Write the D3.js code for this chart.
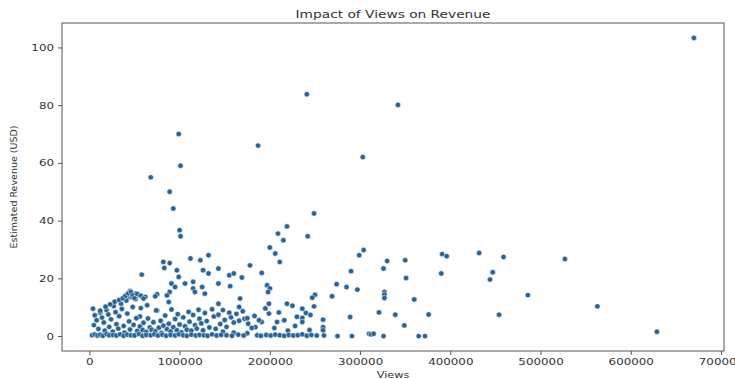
<!DOCTYPE html>
<html>
<head>
<meta charset="utf-8">
<script src="https://cdn.jsdelivr.net/npm/d3@7"></script>
<style>
    body { margin: 0; background: #fff; }
    svg { display: block; }
    text { font-family: "DejaVu Sans", sans-serif; fill: #333; }
</style>
</head>
<body>
<svg id="chart" width="735" height="379"></svg>
<script>
// views (thousands) and estimated revenue (USD)
var views = [
    670, 241, 342, 99, 187, 303, 101, 68, 89, 93, 100, 101, 249, 219, 209, 215, 242, 200, 206, 211,
    304, 299, 290, 297, 274, 285, 269, 289, 259, 259, 259, 260, 275, 291, 310,
    330, 326, 350, 351, 391, 396, 390, 432, 459, 447, 444, 486, 527, 563, 629, 454,
    327, 327, 327, 360, 321, 339, 376, 349, 312, 315, 326, 365, 372,
    250, 247, 219, 249, 236, 240, 236, 236, 216,
    112, 123, 132, 178, 126, 132, 143, 155, 160, 169, 191, 156, 143, 167, 128, 106, 115, 115, 117, 125,
    197, 200, 198, 143, 166, 199, 184, 199, 208, 191,
    82, 89, 83, 58, 97, 99, 91, 95, 89, 75, 45, 51, 44, 88, 86, 64, 56, 75, 73,
    4, 6, 8, 5, 10, 12, 14, 16, 17, 19, 21, 22, 24, 26, 27, 29, 30, 32, 33, 35,
    36, 38, 39, 41, 42, 44, 45, 47, 48, 49, 51, 52, 53, 55, 56, 57, 59, 60, 62, 63,
    65, 67, 69, 71, 73, 74, 77, 79, 80, 82, 84, 86, 88, 90, 91, 93, 95, 97, 98, 100,
    102, 104, 106, 108, 110, 111, 113, 115, 117, 119, 121, 122, 124, 126, 128, 130, 133, 136, 138, 140,
    143, 145, 148, 150, 152, 155, 157, 160, 163, 166, 170, 172, 176, 180, 148, 160, 175,
    12, 18, 23, 28, 33, 37, 40, 43, 46, 48, 50, 53, 57, 60,
    195, 210, 225, 230, 245, 205, 220, 228, 244, 183, 188, 175,
    3, 6, 9, 12, 15, 19, 22, 26, 30, 34, 38, 42, 46, 50, 55, 59, 63, 68, 72, 76,
    81, 85, 90, 95, 99, 104, 108, 113, 118, 122, 127, 131, 136, 141, 146, 152, 158, 165, 171,
    186, 190, 196, 201, 206, 211, 216, 221, 226, 231, 236, 241, 246, 252
];
var revenue = [
    103.3, 83.8, 80.1, 70, 66, 62, 59, 55, 50, 44.2, 36.7, 34.6, 42.5, 38, 35.5, 33.2, 34.6, 30.7, 28.6, 25.7,
    29.8, 28, 22.5, 16.1, 18, 17, 13.8, 6.6, 5.7, 3.1, 2, 0.2, 0, 0, 0.8,
    26, 23.4, 26.3, 20.1, 28.4, 27.7, 21.7, 28.8, 27.4, 22.1, 19.6, 14.2, 26.7, 10.3, 1.5, 7.4,
    15.3, 14.4, 13.2, 12.7, 8.2, 7.4, 7.5, 3.7, 0.6, 0.8, 0, 0, 0,
    14.3, 13.3, 11.2, 10.3, 9.5, 8, 6.3, 4.9, 5.5,
    26.9, 26.3, 28, 24.5, 22.8, 21.7, 23.4, 21.1, 21.7, 20.3, 21.9, 17.3, 18.2, 13, 14.7, 18.2, 18.8, 16.5, 15.3, 17,
    17.6, 16.5, 15.3, 11.2, 10.1, 11.2, 3.1, 7.8, 4.9, 4.9,
    25.7, 25.3, 23.6, 21.3, 22.8, 20.5, 18.2, 17, 15.3, 14.5, 15.6, 14.7, 13.5, 11.8, 14.1, 10.7, 6.8, 8.9, 13.8,
    9.5, 7.2, 5.5, 3.8, 2.5, 8.1, 6.4, 4.7, 1.9, 9.0, 7.5, 3.2, 5.8, 1.5, 10.4, 8.3, 4.1, 2.6, 6.9, 11.2,
    9.4, 3.5, 1.2, 12.3, 7.8, 5.1, 2.3, 13.5, 10.1, 3.9, 12.8, 6.2, 1.8, 14.2, 3.3, 9.7, 2.1, 4.6, 13.6, 1.4,
    6.1, 3.0, 2.2, 4.8, 1.7, 8.9, 2.9, 5.3, 1.1, 3.6, 7.1, 2.4, 4.3, 1.6, 9.2, 3.1, 5.9, 2.0, 7.6, 4.0,
    1.3, 6.5, 3.4, 2.2, 8.4, 5.0, 1.9, 7.3, 3.8, 2.6, 9.1, 6.0, 4.4, 2.0, 8.0, 5.2, 3.0, 9.3, 6.8, 2.5,
    7.4, 4.2, 9.0, 5.6, 3.2, 8.1, 6.5, 4.7, 7.7, 5.3, 8.6, 6.0, 4.3, 2.8, 1.5, 1.2, 1.0,
    8.8, 10.2, 11.0, 11.9, 12.5, 13.1, 14.0, 14.8, 15.3, 14.1, 13.2, 14.6, 14.0, 13.0,
    9.6, 8.2, 10.5, 6.7, 7.3, 2.8, 1.9, 3.5, 2.1, 7.0, 5.5, 6.2,
    0.3, 0.6, 0.2, 0.5, 0.1, 0.7, 0.3, 0.4, 0.2, 0.6, 0.1, 0.5, 0.3, 0.2, 0.7, 0.1, 0.4, 0.3, 0.6, 0.2,
    0.5, 0.1, 0.4, 0.2, 0.6, 0.3, 0.1, 0.5, 0.2, 0.4, 0.3, 0.1, 0.6, 0.2, 0.4, 0.3, 0.1, 0.5, 0.2,
    0.3, 0.1, 0.4, 0.2, 0.5, 0.3, 0.1, 0.4, 0.2, 0.3, 0.6, 0.1, 0.4, 0.2
];
var xTicks = [0, 100000, 200000, 300000, 400000, 500000, 600000, 700000];
var yTicks = [0, 20, 40, 60, 80, 100];

var width = 735, height = 379;
var plotLeft = 62, plotRight = 724, plotTop = 23, plotBottom = 351;
var stretch = 1.25;   // the picture is squeezed wider than it is tall

var points = views.map(function (v, i) { return { views: v * 1000, revenue: revenue[i] }; });

var svg = d3.select('#chart');

// matplotlib style 5% padding on both axes
var xExt = d3.extent(points, function (d) { return d.views; });
var yExt = d3.extent(points, function (d) { return d.revenue; });
var xPad = (xExt[1] - xExt[0]) * 0.05;
var yPad = (yExt[1] - yExt[0]) * 0.05;

var xScale = d3.scaleLinear()
    .domain([xExt[0] - xPad, xExt[1] + xPad])
    .range([plotLeft, plotRight]);

var yScale = d3.scaleLinear()
    .domain([yExt[0] - yPad, yExt[1] + yPad])
    .range([plotBottom, plotTop]);

// x axis
var xAxisG = svg.append('g')
    .attr('transform', 'translate(0,' + plotBottom + ')')
    .call(d3.axisBottom(xScale).tickValues(xTicks).tickFormat(d3.format('d')).tickSize(4).tickPadding(3));
xAxisG.select('.domain').remove();
xAxisG.selectAll('line').attr('stroke', '#555');
xAxisG.selectAll('text')
    .attr('transform', 'scale(' + stretch + ',1)')
    .style('font-size', '9.5px')
    .attr('fill', '#333');

// y axis
var yAxisG = svg.append('g')
    .attr('transform', 'translate(' + plotLeft + ',0)')
    .call(d3.axisLeft(yScale).tickValues(yTicks).tickSize(4).tickPadding(3));
yAxisG.select('.domain').remove();
yAxisG.selectAll('line').attr('stroke', '#555');
yAxisG.selectAll('text')
    .attr('transform', 'scale(' + stretch + ',1)')
    .attr('x', -8 / stretch)
    .style('font-size', '9.5px')
    .attr('fill', '#333');

// frame
svg.append('rect')
    .attr('x', plotLeft)
    .attr('y', plotTop)
    .attr('width', plotRight - plotLeft)
    .attr('height', plotBottom - plotTop)
    .attr('fill', 'none')
    .attr('stroke', '#555')
    .attr('stroke-width', 1);

// scatter
svg.append('g')
    .selectAll('circle')
    .data(points)
    .enter()
    .append('circle')
    .attr('cx', function (d) { return xScale(d.views); })
    .attr('cy', function (d) { return yScale(d.revenue); })
    .attr('r', 2.7)
    .attr('fill', '#2a6496')
    .attr('stroke', '#fff')
    .attr('stroke-width', 0.5);

// title and labels
svg.append('text')
    .attr('transform', 'translate(' + ((plotLeft + plotRight) / 2) + ',18) scale(' + stretch + ',1)')
    .attr('text-anchor', 'middle')
    .style('font-size', '11px')
    .text('Impact of Views on Revenue');

svg.append('text')
    .attr('transform', 'translate(' + ((plotLeft + plotRight) / 2) + ',378) scale(' + stretch + ',1)')
    .attr('text-anchor', 'middle')
    .style('font-size', '9px')
    .text('Views');

svg.append('text')
    .attr('transform', 'translate(17,' + ((plotTop + plotBottom) / 2) + ') rotate(-90)')
    .attr('text-anchor', 'middle')
    .style('font-size', '9.5px')
    .text('Estimated Revenue (USD)');
</script>
</body>
</html>
